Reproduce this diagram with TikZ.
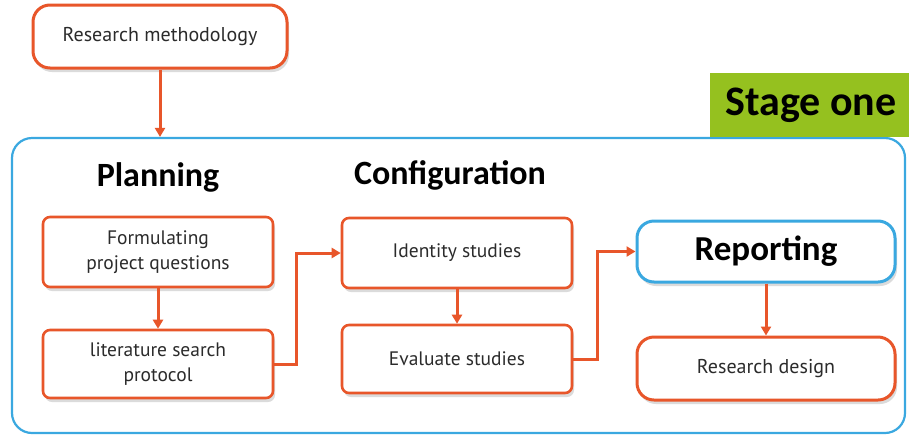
\documentclass[tikz,border=0pt]{standalone}
\usepackage{fontspec}
\setmainfont{PT Sans}
\newfontfamily\headfont{Carlito}
\usetikzlibrary{arrows.meta,shadows,positioning}
\definecolor{orng}{HTML}{E8562A}
\definecolor{blu}{HTML}{3AA8E0}
\definecolor{grn}{HTML}{95C11F}
\definecolor{txt}{HTML}{2B2B2B}
\tikzset{
  shad/.style={drop shadow={shadow xshift=2pt,shadow yshift=-4pt,opacity=0.2,fill=black!70}},
  smallbox/.style={draw=orng,line width=2.6pt,fill=white,rounded corners=7pt,minimum width=230pt,align=center,font=\fontsize{19.5}{25.5}\selectfont,text=txt,shad},
  bigbox/.style={draw=orng,line width=3pt,fill=white,rounded corners=17pt,minimum width=254pt,font=\fontsize{20}{24}\selectfont,text=txt,shad},
  heading/.style={font=\headfont\bfseries\fontsize{34}{38}\selectfont,text=black},
  conn/.style={draw=orng,line width=3pt,-{Triangle[length=9pt,width=10pt]}},
}
\begin{document}
\begin{tikzpicture}[x=1pt,y=-1pt]
\useasboundingbox (0,0) rectangle (909,437);
\fill[white] (0,0) rectangle (909,437);
\node[draw=blu,line width=2.2pt,rounded corners=20pt,minimum width=893pt,minimum height=295pt] (frame) at (458.5,285.5) {};
\node[fill=grn,minimum width=202pt,minimum height=64pt,font=\headfont\bfseries\fontsize{42}{46}\selectfont,text=black] (stage) at (811,105) {Stage one};
\node[bigbox,minimum height=63pt] (rm) at (160,36.5) {Research methodology};
\node[heading] (plan) at (158,177) {Planning};
\node[heading] (conf) at (450,175) {Configuration};
\node[smallbox,minimum height=70pt] (fpq) at (158,252) {Formulating\\project questions};
\node[smallbox,minimum height=68pt] (lit) at (158,364) {literature search\\protocol};
\node[smallbox,minimum height=70pt] (id) at (457,253) {Identity studies};
\node[smallbox,minimum height=68pt] (ev) at (457,359) {Evaluate studies};
\node[bigbox,draw=blu,minimum width=258pt,minimum height=61pt,font=\headfont\bfseries\fontsize{35}{38}\selectfont,text=black] (rep) at (766,251.5) {Reporting};
\node[bigbox,minimum width=258pt,minimum height=63pt] (rd) at (766,368.5) {Research design};
\draw[conn] (rm.south) -- (rm.south |- frame.north);
\draw[conn] (fpq.south) -- (lit.north);
\draw[conn] (id.south) -- (ev.north);
\draw[conn] (rep.south) -- (rd.north);
\draw[conn] (lit.east) -- ++(22,0) |- (id.west);
\draw[conn] (ev.east) -- ++(24,0) |- (rep.west);
\end{tikzpicture}
\end{document}
